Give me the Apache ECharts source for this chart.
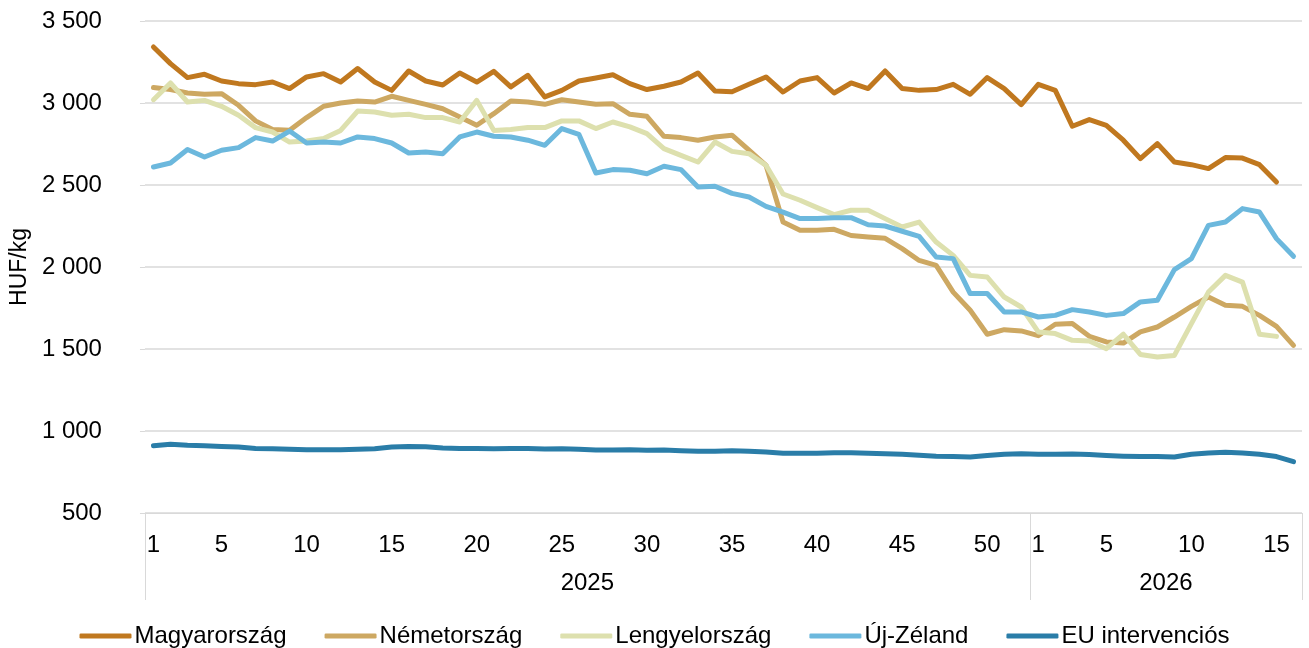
<!DOCTYPE html>
<html>
<head>
<meta charset="utf-8">
<style>
  html, body { margin: 0; padding: 0; background: #fff; }
  #chart { width: 1309px; height: 648px; }
</style>
<script src="https://cdn.jsdelivr.net/npm/echarts@6/dist/echarts.min.js"></script>
</head>
<body>
<div id="chart"></div>
<script>
// hetek (2025: 1-52, 2026: 1-16)
const weeks = [
  '1','2','3','4','5','6','7','8','9','10','11','12','13','14','15','16','17','18','19','20',
  '21','22','23','24','25','26','27','28','29','30','31','32','33','34','35','36','37','38','39','40',
  '41','42','43','44','45','46','47','48','49','50','51','52',
  '1','2','3','4','5','6','7','8','9','10','11','12','13','14','15','16'
]
const years = ['2025', '2026']
const shownWeeks = ['1', '5', '10', '15', '20', '25', '30', '35', '40', '45', '50']

const magyarorszag = [
  3342, 3240, 3155, 3175, 3134, 3118, 3112, 3128, 3088, 3159,
  3179, 3128, 3210, 3128, 3077, 3195, 3134, 3110, 3183, 3128,
  3193, 3098, 3169, 3037, 3077, 3134, 3152, 3172, 3118, 3082,
  3102, 3128, 3183, 3073, 3069, 3114, 3159, 3067, 3134, 3155,
  3061, 3122, 3088, 3195, 3088, 3077, 3082, 3114, 3053, 3155,
  3088, 2990, 3114, 3077, 2858, 2899, 2864, 2773, 2661, 2752,
  2640, 2624, 2600, 2667, 2664, 2624, 2518, null
]
const nemetorszag = [
  3094, 3082, 3061, 3053, 3057, 2986, 2891, 2838, 2834, 2911,
  2980, 3000, 3012, 3006, 3041, 3016, 2992, 2965, 2915, 2864,
  2935, 3012, 3006, 2992, 3020, 3006, 2992, 2996, 2931, 2919,
  2797, 2789, 2773, 2793, 2804, 2712, 2620, 2274, 2224, 2224,
  2230, 2192, 2183, 2175, 2112, 2040, 2010, 1847, 1736, 1590,
  1618, 1610, 1581, 1651, 1655, 1577, 1543, 1536, 1604, 1634,
  1695, 1760, 1817, 1767, 1760, 1705, 1638, 1522
]
const lengyelorszag = [
  3020, 3122, 3006, 3016, 2980, 2925, 2850, 2823, 2762, 2768,
  2783, 2833, 2951, 2945, 2925, 2931, 2911, 2911, 2884, 3016,
  2833, 2838, 2850, 2850, 2891, 2891, 2844, 2884, 2854, 2813,
  2722, 2681, 2640, 2762, 2705, 2691, 2620, 2445, 2407, 2362,
  2319, 2346, 2346, 2295, 2244, 2274, 2152, 2071, 1949, 1939,
  1817, 1756, 1604, 1594, 1553, 1549, 1502, 1590, 1467, 1451,
  1461, 1655, 1847, 1949, 1908, 1590, 1577, null
]
const ujzeland = [
  2610, 2634, 2716, 2671, 2712, 2728, 2789, 2768, 2829, 2756,
  2762, 2756, 2793, 2783, 2756, 2695, 2701, 2691, 2793, 2823,
  2797, 2793, 2773, 2742, 2844, 2809, 2573, 2594, 2590, 2569,
  2614, 2594, 2488, 2492, 2449, 2427, 2370, 2335, 2295, 2295,
  2301, 2301, 2258, 2250, 2218, 2187, 2061, 2051, 1838, 1838,
  1726, 1726, 1695, 1705, 1740, 1726, 1705, 1716, 1787, 1797,
  1984, 2051, 2254, 2274, 2356, 2335, 2173, 2065
]
const euIntervencios = [
  910, 919, 913, 910, 906, 902, 894, 892, 888, 886,
  886, 886, 888, 892, 902, 906, 904, 896, 894, 894,
  892, 894, 894, 890, 892, 888, 884, 884, 886, 882,
  884, 880, 876, 876, 880, 876, 872, 864, 864, 864,
  868, 868, 864, 862, 858, 852, 846, 844, 842, 850,
  858, 862, 858, 858, 860, 856, 850, 846, 844, 844,
  842, 858, 866, 870, 866, 858, 844, 813
]

const FONT = 'Liberation Sans, Arial, sans-serif'
const GRID = '#d9d9d9'
const FS = 24

const chart = echarts.init(document.getElementById('chart'))

const line = (name, data, color) => ({
  name,
  type: 'line',
  data,
  symbol: 'none',
  showSymbol: false,
  lineStyle: { width: 5, color, cap: 'round', join: 'round' },
  itemStyle: { color },
  emphasis: { disabled: true }
})

chart.setOption({
  animation: false,
  textStyle: { fontFamily: FONT },
  grid: { left: 143, right: 7, top: 21, bottom: 135, containLabel: false },
  xAxis: [
    {
      type: 'category',
      data: weeks,
      boundaryGap: true,
      axisLine: { show: true, lineStyle: { color: GRID, width: 1 } },
      axisTick: { show: false },
      axisLabel: {
        interval: 0,
        margin: 20,
        fontSize: FS,
        color: '#000',
        fontFamily: FONT,
        formatter: (v) => (shownWeeks.includes(v) ? v : '')
      },
      splitLine: { show: false }
    },
    {
      type: 'value',
      min: 0,
      max: 68,
      position: 'bottom',
      axisLine: { show: false },
      splitLine: { show: false },
      axisTick: {
        show: true,
        customValues: [0, 52, 68],
        length: 87,
        lineStyle: { color: GRID, width: 1 }
      },
      axisLabel: {
        customValues: [26, 60],
        margin: 58,
        fontSize: FS,
        color: '#000',
        fontFamily: FONT,
        formatter: (v) => (v < 52 ? years[0] : years[1])
      }
    }
  ],
  yAxis: {
    type: 'value',
    min: 500,
    max: 3500,
    interval: 500,
    name: 'HUF/kg',
    nameLocation: 'middle',
    nameGap: 102,
    nameRotate: 90,
    nameTextStyle: { fontSize: 23, color: '#000', fontFamily: FONT },
    axisLine: { show: false },
    axisTick: { show: true, length: 5, lineStyle: { color: GRID } },
    axisLabel: {
      margin: 43,
      fontSize: FS,
      color: '#000',
      fontFamily: FONT,
      formatter: (v) => String(v).replace(/\B(?=(\d{3})+(?!\d))/g, ' ')
    },
    splitLine: { show: true, lineStyle: { color: GRID, width: 1.5 } }
  },
  legend: {
    top: 619,
    left: 'center',
    itemWidth: 52,
    itemHeight: 5,
    itemGap: 38,
    icon: 'roundRect',
    textStyle: { fontSize: FS, color: '#000', fontFamily: FONT, padding: [0, 0, 0, -2] },
    data: ['Magyarország', 'Németország', 'Lengyelország', 'Új-Zéland', 'EU intervenciós']
  },
  series: [
    line('Magyarország', magyarorszag, '#c0781f'),
    line('Németország', nemetorszag, '#cda862'),
    line('Lengyelország', lengyelorszag, '#dde0ae'),
    line('Új-Zéland', ujzeland, '#6cb8dd'),
    line('EU intervenciós', euIntervencios, '#2a7da8')
  ]
})
</script>
</body>
</html>
